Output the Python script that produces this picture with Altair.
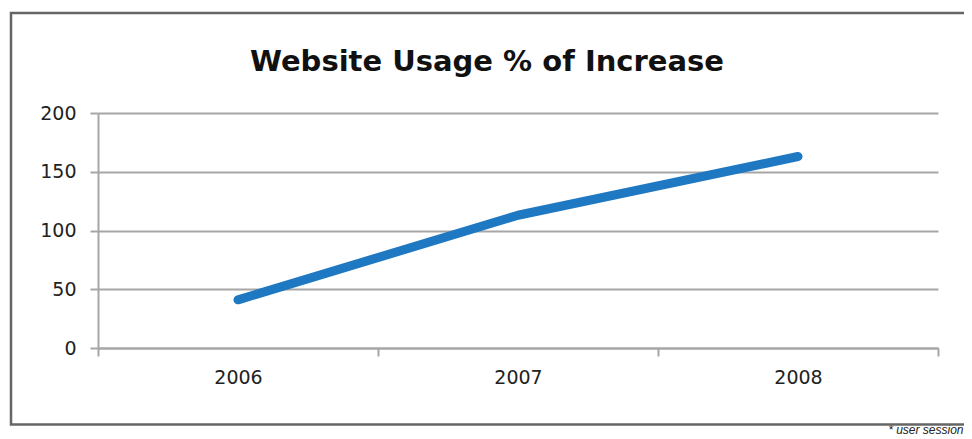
import altair as alt
import pandas as pd

years = ["2006", "2007", "2008"]
values = [41, 113, 163]
boundaries = [0, 1, 2, 3]

df = pd.DataFrame({"year": years, "value": values})
bdf = pd.DataFrame({"b": boundaries})

W, H = 840, 235
GRID = "#a6a6a6"

line = alt.Chart(df).mark_line(
    color="#1f78c2", strokeWidth=9, strokeCap="round", strokeJoin="round"
).encode(
    x=alt.X("year:O", sort=years,
            scale=alt.Scale(paddingInner=0, paddingOuter=0),
            axis=alt.Axis(orient="bottom", title="* user session", labelAngle=0,
                          ticks=False, domain=False, labelPadding=20,
                          labelFont="DejaVu Sans", labelFontSize=19, labelColor="#222",
                          titleFont="Liberation Sans", titleFontSize=12,
                          titleFontStyle="italic", titleFontWeight="normal",
                          titleColor="#222", titleAlign="right", titleBaseline="alphabetic",
                          titleX=865, titleY=85, titleAnchor="end")),
    y=alt.Y("value:Q", scale=alt.Scale(domain=[0, 200]),
            axis=alt.Axis(values=[0, 50, 100, 150, 200], title=None,
                          grid=True, gridColor=GRID, gridWidth=2,
                          domainColor=GRID, domainWidth=2,
                          tickColor=GRID, tickWidth=2, tickSize=8,
                          labelPadding=14, labelFont="DejaVu Sans",
                          labelFontSize=19, labelColor="#222")),
)

ticks = alt.Chart(bdf).mark_point(opacity=0).encode(
    x=alt.X("b:Q", scale=alt.Scale(domain=[0, 3], nice=False, zero=False),
            axis=alt.Axis(orient="bottom", values=boundaries, labels=False, title=None,
                          grid=False, domainColor=GRID, domainWidth=2,
                          tickColor=GRID, tickWidth=2, tickSize=8)),
)

frame = alt.Chart(bdf.head(1)).mark_rect(
    fill=None, stroke="#666666", strokeWidth=2.5
).encode(
    x=alt.value(-87), x2=alt.value(880), y=alt.value(-100), y2=alt.value(311.5)
)

chart = alt.layer(frame, ticks, line).resolve_scale(x="independent").resolve_axis(
    x="independent"
).properties(
    width=W, height=H,
    title=alt.TitleParams("Website Usage % of Increase", font="DejaVu Sans",
                          fontSize=29, fontWeight="bold", color="#111",
                          anchor="middle", dx=-31, offset=-65),
    padding={"left": 90, "top": 105, "right": 26, "bottom": 90},
    autosize=alt.AutoSizeParams(type="none"),
).configure_view(stroke=None)

chart.save("out.html", embed_options={"renderer": "svg", "actions": False})
